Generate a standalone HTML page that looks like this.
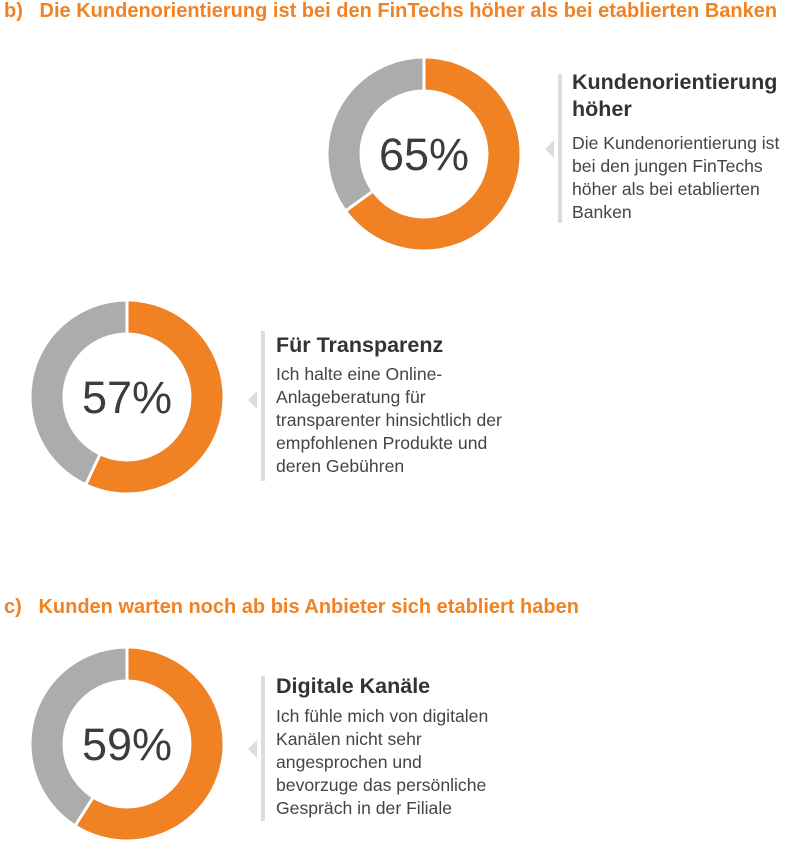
<!DOCTYPE html>
<html><head><meta charset="utf-8"><style>
body{margin:0;width:800px;height:848px;background:#fff;position:relative;overflow:hidden;font-family:"Liberation Sans",sans-serif;color:#3a3a3a}
.t{position:absolute;left:4px;font-weight:bold;font-size:20px;color:#f08224;white-space:nowrap}
.h{position:absolute;font-weight:bold;font-size:21.5px;line-height:27px;color:#333;white-space:nowrap}
.b{position:absolute;font-size:17.6px;line-height:23px;color:#444;white-space:nowrap}
.bar{position:absolute;width:4px;background:#dedbd8}
.arr{position:absolute;width:0;height:0;border-top:9px solid transparent;border-bottom:9px solid transparent;border-right:9px solid #dedbd8}
svg{position:absolute;left:0;top:0}
</style></head><body>
<svg width="800" height="848">
<g font-family="Liberation Sans, sans-serif" font-size="45" fill="#3c3c3c" text-anchor="middle">
 <g transform="translate(424,154)">
  <circle r="80" fill="none" stroke="#acacac" stroke-width="31"/>
  <circle r="80" fill="none" stroke="#f08224" stroke-width="31" stroke-dasharray="326.7 1000" transform="rotate(-90)"/>
  <line x1="0" y1="-64" x2="0" y2="-97" stroke="#fff" stroke-width="3"/>
  <line x1="0" y1="-64" x2="0" y2="-97" stroke="#fff" stroke-width="3" transform="rotate(234)"/>
  <text y="16">65%</text>
 </g>
 <g transform="translate(127,397)">
  <circle r="80" fill="none" stroke="#acacac" stroke-width="31"/>
  <circle r="80" fill="none" stroke="#f08224" stroke-width="31" stroke-dasharray="286.5 1000" transform="rotate(-90)"/>
  <line x1="0" y1="-64" x2="0" y2="-97" stroke="#fff" stroke-width="3"/>
  <line x1="0" y1="-64" x2="0" y2="-97" stroke="#fff" stroke-width="3" transform="rotate(205.2)"/>
  <text y="16">57%</text>
 </g>
 <g transform="translate(127,744)">
  <circle r="80" fill="none" stroke="#acacac" stroke-width="31"/>
  <circle r="80" fill="none" stroke="#f08224" stroke-width="31" stroke-dasharray="296.6 1000" transform="rotate(-90)"/>
  <line x1="0" y1="-64" x2="0" y2="-97" stroke="#fff" stroke-width="3"/>
  <line x1="0" y1="-64" x2="0" y2="-97" stroke="#fff" stroke-width="3" transform="rotate(212.4)"/>
  <text y="16">59%</text>
 </g>
</g>
</svg>
<div class="t" style="top:0px">b)&nbsp;&nbsp; Die Kundenorientierung ist bei den FinTechs höher als bei etablierten Banken</div>
<div class="t" style="top:596px">c)&nbsp;&nbsp; Kunden warten noch ab bis Anbieter sich etabliert haben</div>

<div class="bar" style="left:558px;top:74px;height:149px"></div>
<div class="arr" style="left:545px;top:140px"></div>
<div class="h" style="left:572px;top:69px">Kundenorientierung<br>höher</div>
<div class="b" style="left:572px;top:132px">Die Kundenorientierung ist<br>bei den jungen FinTechs<br>höher als bei etablierten<br>Banken</div>

<div class="bar" style="left:261px;top:331px;height:150px"></div>
<div class="arr" style="left:248px;top:391px"></div>
<div class="h" style="left:276px;top:332px">Für Transparenz</div>
<div class="b" style="left:276px;top:363px">Ich halte eine Online-<br>Anlageberatung für<br>transparenter hinsichtlich der<br>empfohlenen Produkte und<br>deren Gebühren</div>

<div class="bar" style="left:261px;top:676px;height:145px"></div>
<div class="arr" style="left:248px;top:740px"></div>
<div class="h" style="left:276px;top:673px">Digitale Kanäle</div>
<div class="b" style="left:276px;top:705px">Ich fühle mich von digitalen<br>Kanälen nicht sehr<br>angesprochen und<br>bevorzuge das persönliche<br>Gespräch in der Filiale</div>
</body></html>
